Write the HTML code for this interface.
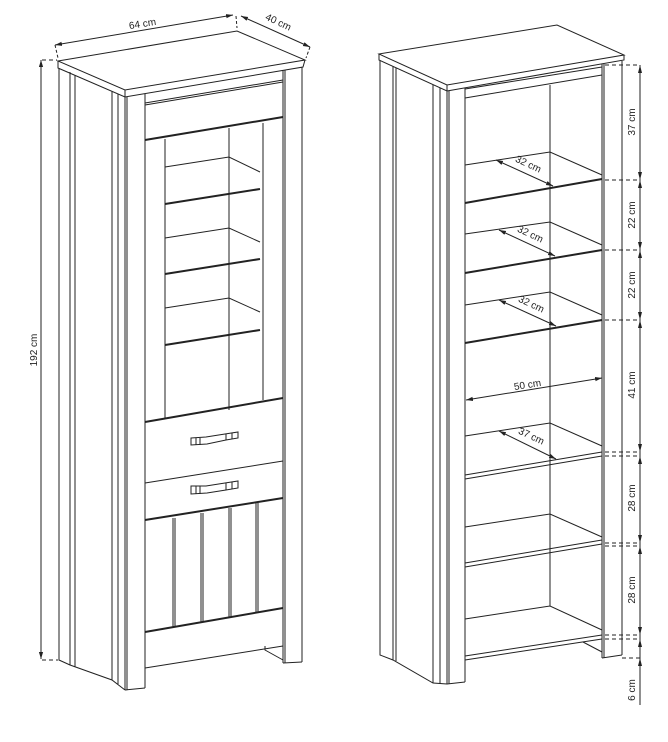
<!DOCTYPE html>
<html><head><meta charset="utf-8"><style>html,body{margin:0;padding:0;background:#fff}svg{display:block}</style></head>
<body>
<svg width="668" height="742" viewBox="0 0 668 742" xmlns="http://www.w3.org/2000/svg" font-family="Liberation Sans, sans-serif" font-size="10" fill="none" stroke="#222" stroke-width="1">
<defs>
<marker id="a" viewBox="0 0 10 10" refX="10" refY="5" markerWidth="7" markerHeight="7" orient="auto-start-reverse"><path d="M0,2 L10,5 L0,8z" fill="#222" stroke="none"/></marker>
</defs>
<!-- ================= LEFT CABINET ================= -->
<path d="M58,61 L237,31 L305,60 L125,90 Z" fill="#fff"/>
<path d="M58,61 L58,68 L125,97 L125,90 M125,97 L303,67 L305,60"/>
<path d="M59,68 L59,660 L70,665 L112,680 L125,690"/>
<line x1="70" y1="72" x2="70" y2="665"/>
<line x1="75" y1="75" x2="75" y2="667"/>
<line x1="112" y1="91" x2="112" y2="680"/>
<line x1="118" y1="94" x2="118" y2="684"/>
<line x1="125" y1="97" x2="125" y2="690"/>
<line x1="127" y1="97" x2="127" y2="690"/>
<line x1="145" y1="94" x2="145" y2="688"/>
<path d="M125,690 L145,688"/>
<line x1="283" y1="70" x2="283" y2="663"/>
<line x1="285" y1="70" x2="285" y2="663"/>
<line x1="302" y1="67" x2="302" y2="662"/>
<path d="M283,663 L302,662"/>
<path d="M145,103 L283,80"/>
<path d="M145,105 L283,82"/>
<path d="M145,140 L283,117" stroke-width="2"/>
<line x1="165" y1="139" x2="165" y2="418"/>
<line x1="263" y1="123" x2="263" y2="400"/>
<line x1="229" y1="128" x2="229" y2="410"/>
<path d="M165,167 L229,157 L260,172"/><path d="M165,204 L260,189" stroke-width="2"/>
<path d="M165,238 L229,228 L260,242"/><path d="M165,274 L260,259" stroke-width="2"/>
<path d="M165,308 L229,298 L260,312"/><path d="M165,345 L260,330" stroke-width="2"/>
<path d="M145,422 L283,398" stroke-width="2"/>
<path d="M145,483 L283,461"/>
<path d="M145,520 L283,498" stroke-width="2"/>
<path d="M191,438 L206,437 L225,434 L238,432 L238,438 L226,440 L207,444 L191,445 Z" fill="#fff"/>
<path d="M196,438 L196,445 M200,438 L200,445 M226,434 L226,440 M232,433 L232,439"/>
<path d="M191,486 L206,486 L225,483 L238,481 L238,488 L226,490 L207,493 L191,494 Z" fill="#fff"/>
<path d="M196,486 L196,494 M200,486 L200,494 M226,483 L226,490 M232,482 L232,489"/>
<path d="M173,518 L173,627 M175,518 L175,627 M201,513 L201,622 M203,513 L203,622 M229,508 L229,617 M231,508 L231,617 M256,503 L256,612 M258,503 L258,612"/>
<path d="M145,632 L283,608" stroke-width="2"/>
<path d="M145,668 L283,646"/>
<path d="M265,646 L265,650 L283,660"/>
<line x1="55" y1="45" x2="233" y2="15" marker-start="url(#a)" marker-end="url(#a)"/>
<path d="M55,45 L58,58" stroke-dasharray="3,2"/>
<path d="M236,16 L237,28" stroke-dasharray="3,2"/>
<text x="143" y="27" fill="#222" stroke="none" transform="rotate(-9 143 27)" text-anchor="middle">64 cm</text>
<line x1="241" y1="16" x2="310" y2="47" marker-start="url(#a)" marker-end="url(#a)"/>
<path d="M310,47 L306,58" stroke-dasharray="3,2"/>
<text x="277" y="25" fill="#222" stroke="none" transform="rotate(25 277 25)" text-anchor="middle">40 cm</text>
<line x1="41" y1="60" x2="41" y2="659" marker-start="url(#a)" marker-end="url(#a)"/>
<path d="M42,60 L57,60 M42,660 L58,660" stroke-dasharray="4,3"/>
<text x="37" y="350" fill="#222" stroke="none" transform="rotate(-90 37 350)" text-anchor="middle">192 cm</text>

<!-- ================= RIGHT CABINET ================= -->
<path d="M379,54 L557,25 L624,55 L447,85 Z" fill="#fff"/>
<path d="M379,54 L379,60 L447,91 L447,85 M447,91 L624,60 L624,55"/>
<path d="M380,60 L380,655 L393,660 L433,683 L447,684 L465,682"/>
<line x1="393" y1="66" x2="393" y2="660"/>
<line x1="396" y1="68" x2="396" y2="661"/>
<line x1="433" y1="85" x2="433" y2="683"/>
<line x1="440" y1="88" x2="440" y2="684"/>
<line x1="447" y1="91" x2="447" y2="684"/>
<line x1="449" y1="91" x2="449" y2="684"/>
<line x1="465" y1="88" x2="465" y2="682"/>
<line x1="602" y1="64" x2="602" y2="658"/>
<line x1="604" y1="64" x2="604" y2="658"/>
<line x1="622" y1="61" x2="622" y2="655"/>
<path d="M602,658 L622,655"/>
<path d="M465,89 L602,67"/>
<path d="M465,98 L602,75"/>
<line x1="550" y1="85" x2="550" y2="606"/>
<path d="M465,165 L550,152 L602,175"/><path d="M465,203 L602,179" stroke-width="2"/>
<path d="M465,234 L550,222 L602,245"/><path d="M465,273 L602,250" stroke-width="2"/>
<path d="M465,305 L550,292 L602,315"/><path d="M465,343 L602,320" stroke-width="2"/>
<path d="M465,436 L550,423 L602,446"/><path d="M465,475 L602,452 M465,479 L602,456"/>
<path d="M465,527 L550,514 L602,537"/><path d="M465,563 L602,540 M465,567 L602,544"/>
<path d="M465,619 L550,606 L602,630"/><path d="M465,656 L602,635 M465,660 L602,639"/>
<path d="M583,642 L602,652"/>
<line x1="496" y1="160" x2="553" y2="186" marker-start="url(#a)" marker-end="url(#a)"/>
<text x="527" y="167" fill="#222" stroke="none" transform="rotate(25 527 167)" text-anchor="middle">32 cm</text>
<line x1="499" y1="230" x2="555" y2="256" marker-start="url(#a)" marker-end="url(#a)"/>
<text x="529" y="237" fill="#222" stroke="none" transform="rotate(25 529 237)" text-anchor="middle">32 cm</text>
<line x1="499" y1="300" x2="556" y2="326" marker-start="url(#a)" marker-end="url(#a)"/>
<text x="530" y="307" fill="#222" stroke="none" transform="rotate(25 530 307)" text-anchor="middle">32 cm</text>
<line x1="466" y1="400" x2="602" y2="378" marker-start="url(#a)" marker-end="url(#a)"/>
<text x="528" y="388" fill="#222" stroke="none" transform="rotate(-9 528 388)" text-anchor="middle">50 cm</text>
<line x1="499" y1="431" x2="556" y2="459" marker-start="url(#a)" marker-end="url(#a)"/>
<text x="530" y="439" fill="#222" stroke="none" transform="rotate(25 530 439)" text-anchor="middle">37 cm</text>
<line x1="640" y1="65" x2="640" y2="705"/>
<path d="M605,65 L640,65 M605,180 L640,180 M605,250 L640,250 M605,320 L640,320 M605,452 L640,452 M605,456 L640,456 M605,543 L640,543 M605,546 L640,546 M605,635 L640,635 M605,639 L640,639 M622,658 L640,658" stroke-dasharray="4,3"/>
<g fill="#222" stroke="none">
<path d="M640,65 l-2,8 h4z M640,180 l-2,-8 h4z M640,180 l-2,8 h4z M640,250 l-2,-8 h4z M640,250 l-2,8 h4z M640,320 l-2,-8 h4z M640,320 l-2,8 h4z M640,452 l-2,-8 h4z M640,456 l-2,8 h4z M640,543 l-2,-8 h4z M640,546 l-2,8 h4z M640,635 l-2,-8 h4z M640,639 l-2,8 h4z M640,658 l-2,8 h4z"/>
<text x="635" y="122" transform="rotate(-90 635 122)" text-anchor="middle">37 cm</text>
<text x="635" y="215" transform="rotate(-90 635 215)" text-anchor="middle">22 cm</text>
<text x="635" y="285" transform="rotate(-90 635 285)" text-anchor="middle">22 cm</text>
<text x="635" y="385" transform="rotate(-90 635 385)" text-anchor="middle">41 cm</text>
<text x="635" y="498" transform="rotate(-90 635 498)" text-anchor="middle">28 cm</text>
<text x="635" y="590" transform="rotate(-90 635 590)" text-anchor="middle">28 cm</text>
<text x="635" y="690" transform="rotate(-90 635 690)" text-anchor="middle">6 cm</text>
</g>
</svg>
</body></html>
